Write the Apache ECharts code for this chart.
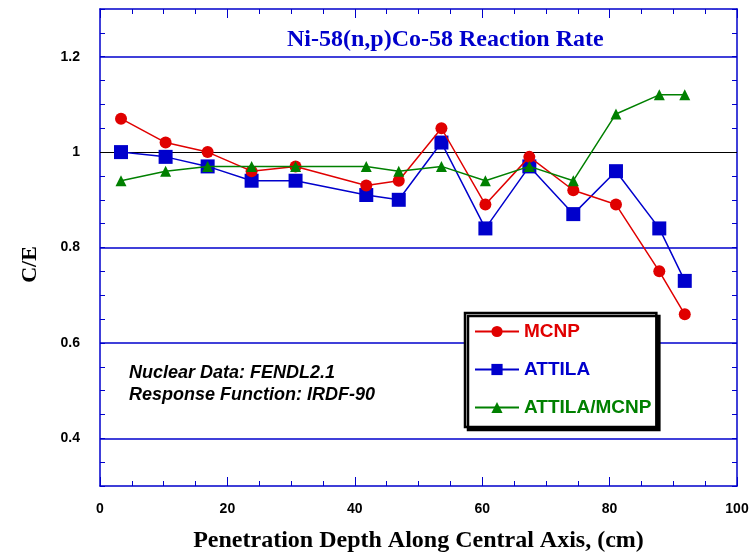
<!DOCTYPE html>
<html>
<head>
<meta charset="utf-8">
<script src="https://cdn.jsdelivr.net/npm/echarts@6/dist/echarts.min.js"></script>
<style>
  html, body { margin: 0; padding: 0; background: #fff; }
  #container { width: 756px; height: 558px; }
</style>
</head>
<body>
<div id="container"></div>
<script>
var myChart = echarts.init(document.getElementById('container'));

// depth (cm) of each measurement position
var depth = [3.3, 10.3, 16.9, 23.8, 30.7, 41.8, 46.9, 53.6, 60.5, 67.4, 74.3, 81.0, 87.8, 91.8];
var mcnp = [1.07, 1.02, 1.0, 0.96, 0.97, 0.93, 0.94, 1.05, 0.89, 0.99, 0.92, 0.89, 0.75, 0.66];
var attila = [1.0, 0.99, 0.97, 0.94, 0.94, 0.91, 0.90, 1.02, 0.84, 0.97, 0.87, 0.96, 0.84, 0.73];
var ratio = [0.94, 0.96, 0.97, 0.97, 0.97, 0.97, 0.96, 0.97, 0.94, 0.97, 0.94, 1.08, 1.12, 1.12];

var yTickLabels = [0.4, 0.6, 0.8, 1, 1.2];
var gridLevels = [0.4, 0.6, 0.8, 1.2];

var blue = '#0000cc';
var red = '#e00000';
var green = '#008000';

function pairs(ys) {
  return depth.map(function (x, i) { return [x, ys[i]]; });
}

var yAxisBase = {
  type: 'value',
  min: 0.3,
  max: 1.3,
  interval: 0.05,
  axisLine: { show: true, onZero: false, lineStyle: { color: blue, width: 1.5 } },
  axisTick: { show: true, inside: true, length: 5, lineStyle: { color: blue } },
  splitLine: { show: false }
};

var xAxisBase = {
  type: 'value',
  min: 0,
  max: 100,
  interval: 20,
  axisLine: { show: true, onZero: false, lineStyle: { color: blue, width: 1.5 } },
  axisTick: { show: true, inside: true, length: 9, lineStyle: { color: blue } },
  minorTick: { show: true, splitNumber: 4, length: 5, lineStyle: { color: blue } },
  splitLine: { show: false }
};

var option = {
  backgroundColor: '#fff',
  animation: false,
  title: {
    text: 'Ni-58(n,p)Co-58 Reaction Rate',
    left: 282,
    top: 23,
    textStyle: {
      color: blue,
      fontFamily: 'Liberation Serif',
      fontWeight: 'bold',
      fontSize: 24
    }
  },
  grid: { left: 100, right: 19, top: 9, bottom: 72 },
  legend: {
    orient: 'vertical',
    left: 465,
    top: 313,
    padding: [9, 5, 10, 9],
    itemWidth: 44,
    itemHeight: 14,
    itemGap: 19,
    backgroundColor: '#fff',
    borderColor: '#000',
    borderWidth: 2.5,
    borderRadius: 0,
    shadowColor: '#000',
    shadowBlur: 0,
    shadowOffsetX: 3,
    shadowOffsetY: 3,
    textStyle: { fontFamily: 'Liberation Sans', fontWeight: 'bold', fontSize: 19 },
    data: [
      { name: 'MCNP', textStyle: { color: red } },
      { name: 'ATTILA', textStyle: { color: blue } },
      { name: 'ATTILA/MCNP', textStyle: { color: green } }
    ]
  },
  graphic: [
    {
      type: 'text',
      left: 129,
      top: 362,
      style: {
        text: 'Nuclear Data: FENDL2.1\nResponse Function: IRDF-90',
        font: 'italic bold 18px "Liberation Sans"',
        fill: '#000',
        lineHeight: 22
      }
    }
  ],
  xAxis: [
    Object.assign({}, xAxisBase, {
      position: 'bottom',
      name: 'Penetration Depth Along Central Axis, (cm)',
      nameLocation: 'middle',
      nameGap: 43,
      nameTextStyle: { color: '#000', fontFamily: 'Liberation Serif', fontWeight: 'bold', fontSize: 24 },
      axisLabel: { color: '#000', fontFamily: 'Liberation Sans', fontWeight: 'bold', fontSize: 14, margin: 16 }
    }),
    Object.assign({}, xAxisBase, { position: 'top', axisLabel: { show: false } })
  ],
  yAxis: [
    Object.assign({}, yAxisBase, {
      position: 'left',
      name: 'C/E',
      nameLocation: 'middle',
      nameGap: 59,
      nameTextStyle: {
        color: '#000',
        fontFamily: 'Liberation Serif',
        fontWeight: 'bold',
        fontSize: 22,
        padding: [0, 34, 0, 0]
      },
      axisLabel: {
        color: '#000',
        fontFamily: 'Liberation Sans',
        fontWeight: 'bold',
        fontSize: 14,
        margin: 20,
        customValues: yTickLabels
      }
    }),
    Object.assign({}, yAxisBase, { position: 'right', axisLabel: { show: false } })
  ],
  series: [
    {
      name: 'MCNP',
      type: 'line',
      data: pairs(mcnp),
      color: red,
      symbol: 'circle',
      symbolSize: 12,
      lineStyle: { width: 1.5, color: red },
      z: 4,
      markLine: {
        silent: true,
        symbol: 'none',
        label: { show: false },
        z: 1,
        lineStyle: { color: blue, width: 1.5, type: 'solid' },
        data: gridLevels.map(function (v) {
          return { yAxis: v };
        }).concat([{ yAxis: 1, lineStyle: { color: '#000', width: 1.2, type: 'solid' } }])
      }
    },
    {
      name: 'ATTILA',
      type: 'line',
      data: pairs(attila),
      color: blue,
      symbol: 'rect',
      symbolSize: 14,
      lineStyle: { width: 1.5, color: blue },
      z: 3
    },
    {
      name: 'ATTILA/MCNP',
      type: 'line',
      data: pairs(ratio),
      color: green,
      symbol: 'triangle',
      symbolSize: 11,
      lineStyle: { width: 1.5, color: green },
      z: 5
    }
  ]
};

myChart.setOption(option);
</script>
</body>
</html>
